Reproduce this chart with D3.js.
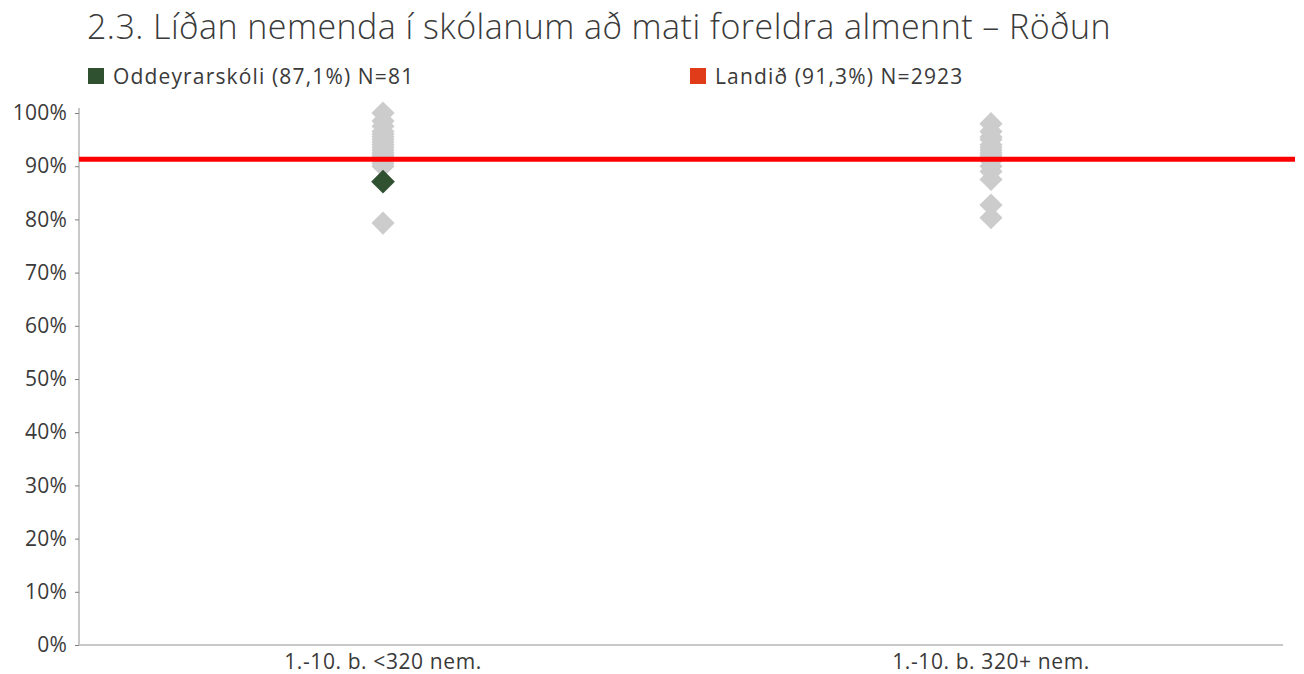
<!DOCTYPE html>
<html>
<head>
<meta charset="utf-8">
<script src="https://cdn.jsdelivr.net/npm/d3@7"></script>
<style>
  html, body { margin: 0; padding: 0; background: #fff; }
  svg { display: block; font-family: "Open Sans", Lato, sans-serif; }
</style>
</head>
<body>
<svg id="chart" width="1304" height="674"></svg>
<script>
// Chart content
const title = "2.3. Líðan nemenda í skólanum að mati foreldra almennt – Röðun";
const categories = ["1.-10. b. <320 nem.", "1.-10. b. 320+ nem."];
const yTicks = [0, 0.1, 0.2, 0.3, 0.4, 0.5, 0.6, 0.7, 0.8, 0.9, 1.0];

// Other schools in each size group (share positive)
const othersSmall = [1.00, 0.985, 0.975, 0.965, 0.96, 0.955, 0.95, 0.945, 0.94, 0.935, 0.93, 0.925, 0.92, 0.91, 0.905, 0.90, 0.793];
const othersLarge = [0.98, 0.965, 0.955, 0.95, 0.94, 0.935, 0.93, 0.925, 0.92, 0.915, 0.91, 0.90, 0.89, 0.875, 0.827, 0.803];

// The school itself and the national value
const schoolName = "Oddeyrarskóli";
const schoolValue = 0.871;
const schoolN = 81;
const schoolCategory = categories[0];
const nationName = "Landið";
const nationValue = 0.913;
const nationN = 2923;

const fmtPct = v => d3.format(".1f")(v * 100).replace(".", ",") + "%";

const svg = d3.select("#chart");
const margin = { left: 79, right: 9, top: 113, bottom: 29 };
const W = 1304, H = 674;
const textColor = "#3a3a3a";
const font = "'Open Sans', Lato, sans-serif";

const x = d3.scaleBand()
  .domain(categories)
  .range([margin.left, W - margin.right]);

const y = d3.scaleLinear()
  .domain([0, 1])
  .range([H - margin.bottom, margin.top]);

// Title
svg.append("text")
  .attr("x", 87).attr("y", 39)
  .attr("font-size", 34)
  .attr("font-weight", 300)
  .attr("letter-spacing", 0.45)
  .attr("fill", textColor)
  .text(title);

// Legend
const legend = [
  { label: `${schoolName} (${fmtPct(schoolValue)}) N=${schoolN}`, color: "#2f5130", x: 88 },
  { label: `${nationName} (${fmtPct(nationValue)}) N=${nationN}`, color: "#e03c1a", x: 690 }
];
const lg = svg.append("g").selectAll("g").data(legend).join("g")
  .attr("transform", d => `translate(${d.x},68)`);
lg.append("rect").attr("width", 16).attr("height", 16).attr("fill", d => d.color);
lg.append("text")
  .attr("x", 25).attr("y", 16)
  .attr("font-size", 21)
  .attr("font-weight", 400)
  .attr("letter-spacing", 1.15)
  .attr("fill", textColor)
  .text(d => d.label);

// Y axis
const yAxis = svg.append("g")
  .attr("transform", `translate(${margin.left},0)`)
  .call(d3.axisLeft(y).tickValues(yTicks).tickFormat(d3.format(".0%")).tickSize(4).tickPadding(8));
yAxis.select(".domain").attr("stroke", "#c8c8c8").attr("stroke-width", 2)
  .attr("d", `M0,${y(1) - 5}V${y(0)}`);
yAxis.selectAll(".tick line").attr("stroke", "#7f7f7f");
yAxis.selectAll(".tick text").attr("font-size", 21).attr("font-weight", 400)
  .attr("letter-spacing", 0.2)
  .attr("fill", textColor).attr("font-family", font);

// X axis
const xAxis = svg.append("g")
  .attr("transform", `translate(0,${y(0)})`)
  .call(d3.axisBottom(x).tickSize(0).tickPadding(9));
xAxis.select(".domain").attr("stroke", "#c8c8c8").attr("stroke-width", 2)
  .attr("d", `M${margin.left},0H${W - margin.right - 12}`);
xAxis.selectAll(".tick text").attr("font-size", 21).attr("font-weight", 400)
  .attr("letter-spacing", 0.6)
  .attr("fill", textColor).attr("font-family", font);

// Diamond markers
const diamond = d3.symbol().type(d3.symbolDiamond2).size(340);
const points = [
  ...othersSmall.map(v => ({ cat: categories[0], v })),
  ...othersLarge.map(v => ({ cat: categories[1], v }))
];
const cx = c => x(c) + x.bandwidth() / 2;

svg.append("g").selectAll("path").data(points).join("path")
  .attr("d", diamond)
  .attr("transform", d => `translate(${cx(d.cat)},${y(d.v)})`)
  .attr("fill", "#cccccc");

// National reference line
svg.append("line")
  .attr("x1", margin.left).attr("x2", W - margin.right)
  .attr("y1", y(nationValue)).attr("y2", y(nationValue))
  .attr("stroke", "#ff0000").attr("stroke-width", 5);

// The school's marker
svg.append("path")
  .attr("d", diamond)
  .attr("transform", `translate(${cx(schoolCategory)},${y(schoolValue)})`)
  .attr("fill", "#2f5130")
  .attr("stroke", "#24402a").attr("stroke-width", 0.5);
</script>
</body>
</html>
